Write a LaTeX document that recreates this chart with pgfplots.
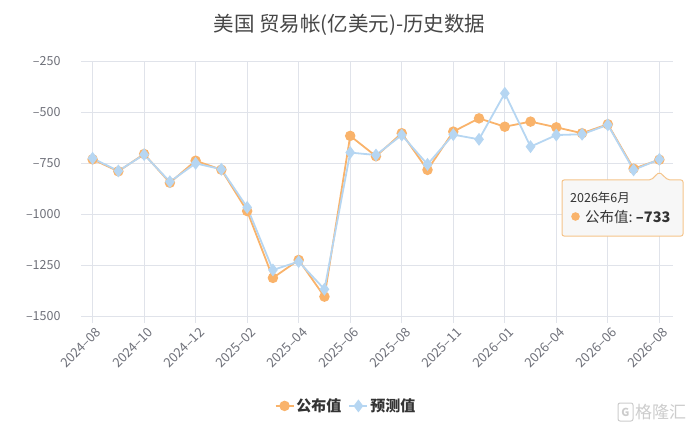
\documentclass[border=0pt]{standalone}
\usepackage{pgfplots}
\pgfplotsset{compat=1.18}
\usepackage{fontspec}
\setmainfont{Noto Sans CJK SC}
\definecolor{cOr}{HTML}{F9B36B}
\definecolor{cBl}{HTML}{B6D6F2}
\definecolor{cGrid}{HTML}{E0E3EA}
\definecolor{cTick}{HTML}{6E7079}
\definecolor{cTxt}{HTML}{333333}
\definecolor{cTipB}{HTML}{F5C48A}
\begin{document}
\begin{tikzpicture}[x=1pt,y=1pt]
\useasboundingbox (0,0) rectangle (692,434);
\node[font=\fontsize{20.5}{20.5}\selectfont, text=cTxt!90] at (349.5,409) {美国 贸易帐(亿美元)-历史数据};
\begin{axis}[
  at={(81pt,118pt)}, anchor=south west, scale only axis,
  width=592pt, height=254.7pt,
  xmin=-0.45, xmax=22.53, ymin=-1500, ymax=-250,
  ytick={-1500,-1250,-1000,-750,-500,-250},
  yticklabels={–1500,–1250,–1000,–750,–500,–250},
  xtick={0,2,4,6,8,10,12,14,16,18,20,22},
  xticklabels={2024–08,2024–10,2024–12,2025–02,2025–04,2025–06,2025–08,2025–11,2026–01,2026–04,2026–06,2026–08},
  axis line style={draw=none},
  grid=major,
  major grid style={cGrid, line width=0.8pt},
  xtick pos=bottom, ytick pos=left,
  tick align=outside,
  major tick length=7pt,
  xtick style={cGrid, line width=0.8pt},
  ytick style={draw=none},
  yticklabel style={font=\fontsize{12.5}{12.5}\selectfont, text=cTick, xshift=-10pt},
  xticklabel style={font=\fontsize{13}{13}\selectfont, text=cTick, rotate=45, anchor=north east, xshift=3pt, yshift=-1pt},
  /pgf/number format/assume math mode=true,
  clip=false,
  legend columns=2,
  legend style={draw=none, fill=none, at={(0.4476,-0.353)}, anchor=center,
    font=\fontsize{15}{15}\selectfont\bfseries, text=cTxt,
    /tikz/every even column/.append style={column sep=5pt}},
  legend image code/.code={\draw[mark repeat=2,mark phase=2,#1] plot coordinates {(0pt,0pt) (9pt,0pt) (18pt,0pt)};},
]
\addplot[cOr, line width=1.8pt, mark=*, mark size=4.3pt, mark options={fill=cOr, draw=cOr}] coordinates {
(0,-731) (1,-790) (2,-705) (3,-846) (4,-738) (5,-782) (6,-985) (7,-1313) (8,-1225) (9,-1405)
(10,-616) (11,-716) (12,-603) (13,-783) (14,-595) (15,-530) (16,-571) (17,-546) (18,-574)
(19,-603) (20,-559) (21,-777) (22,-733)};
\addlegendentry{公布值}
\addplot[cBl, line width=1.8pt, mark=diamond*, mark size=5pt, mark options={fill=cBl, draw=cBl}] coordinates {
(0,-726) (1,-788) (2,-708) (3,-841) (4,-751) (5,-780) (6,-967) (7,-1274) (8,-1233) (9,-1369)
(10,-698) (11,-710) (12,-612) (13,-756) (14,-610) (15,-633) (16,-407) (17,-669) (18,-612)
(19,-608) (20,-562) (21,-783) (22,-731)};
\addlegendentry{预测值}
\end{axis}
% tooltip
\draw[cTipB, line width=1pt, fill=white!97!black, rounded corners=2pt]
  (562,198) -- (562,254) -- (651,254) -- (659.3,262) -- (668,254) -- (683,254) -- (683,198) -- cycle;
\node[anchor=west, font=\fontsize{12.5}{12.5}\selectfont, text=cTxt, inner sep=0pt] at (570,236) {2026年6月};
\fill[cOr] (575.5,217.5) circle (4.3);
\node[anchor=west, font=\fontsize{14.5}{14.5}\selectfont, text=cTxt, inner sep=0pt] at (585,217.5) {公布值:\ \textbf{–733}};
% watermark
\draw[gray!40, line width=1pt, rounded corners=2pt] (618,13) rectangle (633,31);
\node[font=\fontsize{11}{11}\selectfont\bfseries, text=gray!40] at (625.5,22) {G};
\node[anchor=west, font=\fontsize{17}{17}\selectfont, text=gray!40, inner sep=0pt] at (635,22) {格隆汇};
\end{tikzpicture}
\end{document}
